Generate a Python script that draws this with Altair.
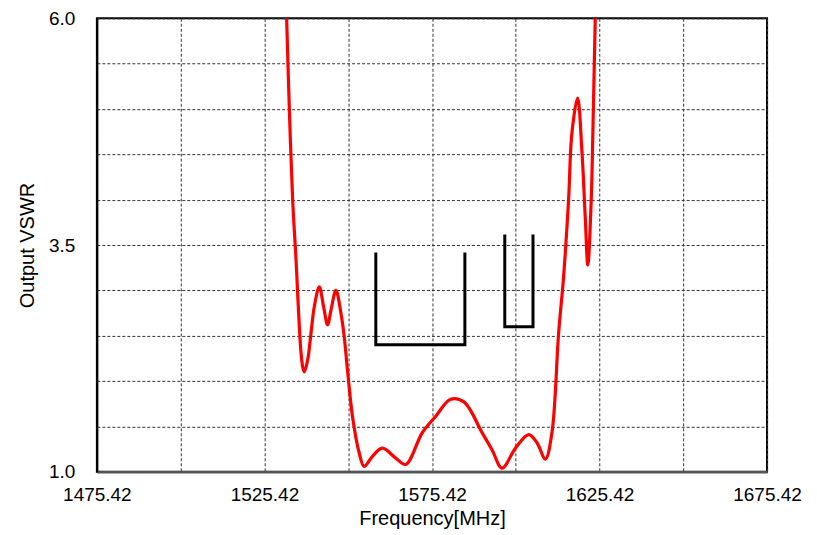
import altair as alt
import pandas as pd

# Measured VSWR curve (frequency MHz, VSWR)
freq = [1531.70, 1532.06, 1532.86, 1533.84, 1534.85, 1535.33, 1535.84, 1536.34,
        1536.82, 1537.32, 1538.31, 1539.32, 1540.30, 1541.79, 1543.07, 1544.26,
        1545.27, 1546.76, 1548.25, 1549.23, 1550.21, 1551.70, 1553.69,
        1555.18, 1557.65, 1560.63, 1564.61, 1567.59, 1572.53, 1576.50, 1580.99,
        1584.94, 1590.39, 1593.37, 1596.34, 1600.33, 1604.29, 1606.76, 1609.26,
        1611.22, 1613.22, 1614.70, 1616.19, 1617.17, 1618.87, 1620.15, 1621.16,
        1621.94, 1622.95, 1623.43, 1624.14, 1624.38]
vswr = [6.31, 5.98, 4.99, 4.00, 3.34, 2.97, 2.60, 2.31,
        2.16, 2.10, 2.23, 2.53, 2.82, 3.04, 2.82, 2.62,
        2.78, 3.00, 2.75, 2.49, 2.12, 1.61, 1.21,
        1.06, 1.17, 1.26, 1.15, 1.08, 1.43, 1.61, 1.80,
        1.77, 1.43, 1.24, 1.04, 1.26, 1.41, 1.32, 1.14,
        1.43, 2.53, 3.15, 4.00, 4.73, 5.12, 4.55, 3.81,
        3.28, 4.00, 4.73, 5.98, 6.31]

# Mask brackets
mask_freq = [1558.66, 1558.66, 1585.24, 1585.24, 1597.15, 1597.15, 1605.57, 1605.57]
mask_vswr = [3.40, 2.40, 2.40, 3.40, 3.60, 2.60, 2.60, 3.60]
mask_group = ["A", "A", "A", "A", "B", "B", "B", "B"]
mask_order = [0, 1, 2, 3, 0, 1, 2, 3]

x_ticks = [1475.42, 1500.42, 1525.42, 1550.42, 1575.42, 1600.42, 1625.42, 1650.42, 1675.42]
y_ticks = [1.0, 1.5, 2.0, 2.5, 3.0, 3.5, 4.0, 4.5, 5.0, 5.5, 6.0]

curve = pd.DataFrame({"f": freq, "v": vswr})
mask = pd.DataFrame({"f": mask_freq, "v": mask_vswr, "g": mask_group, "o": mask_order})

FONT = "Liberation Sans"

x_enc = alt.X("f:Q",
              scale=alt.Scale(domain=[1475.42, 1675.42], nice=False, zero=False),
              axis=alt.Axis(values=x_ticks, title="Frequency[MHz]",
                            labelExpr="abs(round((datum.value-1475.42)/50) - (datum.value-1475.42)/50) < 0.01 ? format(datum.value, '.2f') : ''",
                            labelFlush=False, labelOverlap=False,
                            ticks=False, tickSize=0, labelPadding=14, titlePadding=4,
                            domainColor="#555", domainWidth=2.5,
                            grid=True, gridColor="#333", gridDash=[3, 2], gridWidth=1,
                            labelFont=FONT, labelFontSize=19, labelColor="#000",
                            titleFont=FONT, titleFontSize=20, titleFontWeight="normal", titleColor="#000"))
y_enc = alt.Y("v:Q",
              scale=alt.Scale(domain=[1, 6], nice=False, zero=False),
              axis=alt.Axis(values=y_ticks, title="Output VSWR",
                            labelExpr="(datum.value == 1 || datum.value == 3.5 || datum.value == 6) ? format(datum.value, '.1f') : ''",
                            labelFlush=False, labelOverlap=False,
                            ticks=False, tickSize=0, labelPadding=22, titlePadding=11,
                            domainColor="#000", domainWidth=2,
                            grid=True, gridColor="#333", gridDash=[3, 2], gridWidth=1,
                            labelFont=FONT, labelFontSize=19, labelColor="#000",
                            titleFont=FONT, titleFontSize=20, titleFontWeight="normal", titleColor="#000"))

line = alt.Chart(curve).mark_line(color="#ff0000", strokeWidth=3.2, clip=True,
                                  interpolate="catmull-rom").encode(x=x_enc, y=y_enc)

masks = alt.Chart(mask).mark_line(color="#000000", strokeWidth=3, strokeCap="square").encode(
    x="f:Q", y="v:Q", detail="g:N", order="o:Q")

chart = alt.layer(masks, line).properties(
    width=671, height=454,
    autosize=alt.AutoSizeParams(type="none"),
    padding={"left": 89, "top": 10, "right": 42, "bottom": 60},
).configure_view(stroke="#000", strokeWidth=2)

chart.save("out.html", embed_options={"renderer": "svg", "actions": False})
